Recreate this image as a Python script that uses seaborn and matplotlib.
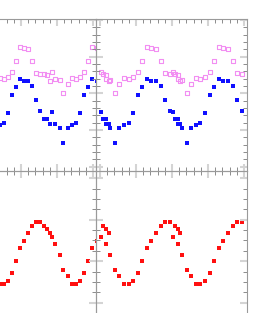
import matplotlib
matplotlib.use("Agg")
import matplotlib.pyplot as plt
import numpy as np
import pandas as pd
import seaborn as sns
from matplotlib.ticker import MultipleLocator

# two x variables (one per column), three y series (two on the top row, one below)
x_left = [-6.81, -6.39, -5.97, -5.69, -5.28, -4.58, -4.17, -3.47,
          -2.92, -2.36, -1.81, -1.25, -0.69, -0.14, 0.42, 0.97, 1.53,
          2.08, 2.64, 3.19, 3.61, 4.03, 4.31, 4.72, 5.42, 5.83, 6.53, 7.08, 7.64,
          8.19, 8.75, 9.31, 9.86,
          10.56, 11.11, 11.67, 12.22, 12.78]
x_right = [0.38, 0.79, 1.21, 0.14, 0.79, 1.39, 2.04, 2.68, 3.33, 3.99, 4.63, 5.28,
           5.88, 6.49, 7.13, 7.78, 8.43,
           9.07, 9.72, 10.38, 10.79, 11.15, 10.14, 10.79, 11.43, 12.04, 12.68, 13.33,
           13.93, 14.58, 15.24, 15.88, 16.53, 17.13, 17.78, 18.43,
           19.07, 19.72]
blue = [6.55, 6.55, 5.86, 7.50, 5.86, 5.32, 3.19, 5.32, 5.69, 6.00, 7.32, 9.78,
        10.83, 11.92, 11.65, 11.69, 11.00,
        9.10, 7.64, 6.55, 6.55, 5.86, 7.50, 5.86, 5.32, 3.19, 5.32, 5.69, 6.00,
        7.32, 9.78, 10.83, 11.92, 11.65, 11.69, 11.00,
        9.10, 7.64]
pink = [12.60, 12.55, 11.69, 12.95, 11.92, 11.82, 10.01, 11.28, 12.10, 11.96, 12.23, 12.95,
        14.37, 16.36, 16.23, 16.01, 14.45,
        12.82, 12.60, 12.60, 12.55, 11.69, 12.95, 11.92, 11.82, 10.01, 11.28, 12.10, 11.96,
        12.23, 12.95, 14.37, 16.36, 16.23, 16.01, 14.45,
        12.82, 12.60]
red = [1.86, 1.78, 1.68, 1.58, 1.42, 1.15, 0.78, 0.64, 0.46, 0.44, 0.52, 0.72,
       1.00, 1.31, 1.49, 1.69, 1.85,
       1.95, 1.95, 1.86, 1.78, 1.68, 1.58, 1.42, 1.15, 0.78, 0.64, 0.46, 0.44,
       0.52, 0.72, 1.00, 1.31, 1.49, 1.69, 1.85,
       1.95, 1.95]

df = pd.DataFrame({"x_left": x_left, "x_right": x_right,
                   "blue": blue, "pink": pink, "red": red})

W, H = 266, 313
fig = plt.figure(figsize=(W / 100, H / 100), dpi=100)

# panel rectangles in pixels: (left, top, width, height)
cols = {"x_left": (-55, 151, (-10.56, 10.42)), "x_right": (96, 151, (-0.56, 20.42))}
rows = [(19, 151.7, (-0.55, 20.14), 5, 1), (170.7, 151.7, (-0.475, 3.183), 1, 0.25)]

SPINE = "#9a9a9a"
for r, (top, h, ylim, ymaj, ymin) in enumerate(rows):
    for xcol, (left, w, xlim) in cols.items():
        ax = fig.add_axes([left / W, 1 - (top + h) / H, w / W, h / H])
        ax.set_facecolor("none")
        if r == 0:
            sns.scatterplot(data=df, x=xcol, y="pink", ax=ax, marker="s", s=9,
                            fc="none", ec="#f28ef2", linewidth=0.8)
            sns.scatterplot(data=df, x=xcol, y="blue", ax=ax, marker="s", s=9,
                            color="#1010ff", linewidth=0)
        else:
            sns.scatterplot(data=df, x=xcol, y="red", ax=ax, marker="s", s=9,
                            color="#ff1010", linewidth=0)
        ax.set_xlim(*xlim)
        ax.set_ylim(*ylim)
        ax.xaxis.set_major_locator(MultipleLocator(5))
        ax.xaxis.set_minor_locator(MultipleLocator(1))
        ax.yaxis.set_major_locator(MultipleLocator(ymaj))
        ax.yaxis.set_minor_locator(MultipleLocator(ymin))
        ax.tick_params(which="both", direction="in", top=True, right=True,
                       bottom=True, left=True, labelbottom=False, labelleft=False)
        ax.tick_params(which="major", length=5, width=1.5, color="#d4d4d4")
        ax.tick_params(which="minor", length=2.7, width=0.7, color="#8c8c8c")
        for sp in ax.spines.values():
            sp.set_color(SPINE)
            sp.set_linewidth(0.8)
        ax.set_xlabel("")
        ax.set_ylabel("")

fig.savefig("out.png", dpi=100)
plt.close(fig)
